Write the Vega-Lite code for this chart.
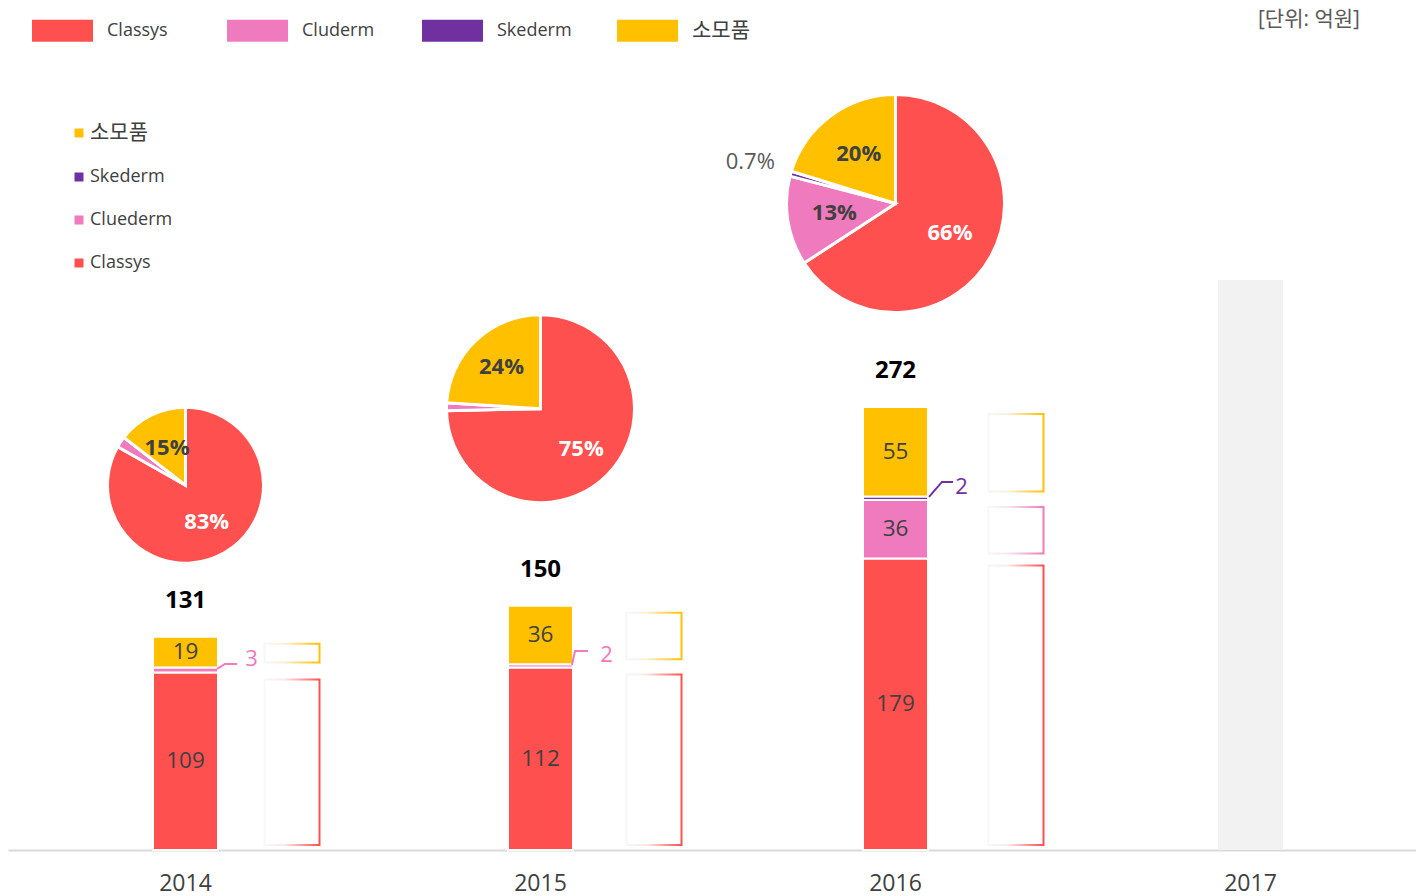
{
  "$schema": "https://vega.github.io/schema/vega-lite/v6.json",
  "width": 1408,
  "height": 810,
  "padding": {"left": 8, "top": 40, "right": 0, "bottom": 46},
  "autosize": {"type": "none"},
  "background": "white",
  "config": {
    "view": {"stroke": null},
    "font": "Open Sans, Noto Sans CJK KR, sans-serif",
    "axis": {"grid": false}
  },
  "title": {
    "text": "[단위: 억원]",
    "anchor": "end",
    "frame": "group",
    "fontSize": 21,
    "fontWeight": "normal",
    "color": "#595959",
    "dx": -56,
    "offset": -30
  },
  "datasets": {
    "sales": [
      {"year": "2014", "cat": "Classys", "order": 1, "value": 109, "share": "83%"},
      {"year": "2014", "cat": "Cluderm", "order": 2, "value": 3, "share": "2%"},
      {"year": "2014", "cat": "소모품", "order": 4, "value": 19, "share": "15%"},
      {"year": "2015", "cat": "Classys", "order": 1, "value": 112, "share": "75%"},
      {"year": "2015", "cat": "Cluderm", "order": 2, "value": 2, "share": "1%"},
      {"year": "2015", "cat": "소모품", "order": 4, "value": 36, "share": "24%"},
      {"year": "2016", "cat": "Classys", "order": 1, "value": 179, "share": "66%"},
      {"year": "2016", "cat": "Cluderm", "order": 2, "value": 36, "share": "13%"},
      {"year": "2016", "cat": "Skederm", "order": 3, "value": 2, "share": "0.7%"},
      {"year": "2016", "cat": "소모품", "order": 4, "value": 55, "share": "20%"}
    ],
    "pies": [
      {"year": "2014", "pieAt": 224},
      {"year": "2015", "pieAt": 271},
      {"year": "2016", "pieAt": 397}
    ]
  },
  "data": {"name": "sales"},
  "transform": [
    {"lookup": "year", "from": {"data": {"name": "pies"}, "key": "year", "fields": ["pieAt"]}},
    {"joinaggregate": [{"op": "sum", "field": "value", "as": "total"}], "groupby": ["year"]},
    {"stack": "value", "groupby": ["year"], "sort": [{"field": "order", "order": "ascending"}], "as": ["y0", "y1"]},
    {"stack": "value", "groupby": ["year"], "sort": [{"field": "order", "order": "ascending"}], "offset": "normalize", "as": ["p0", "p1"]},
    {"calculate": "(datum.y0 + datum.y1) / 2", "as": "ymid"},
    {"calculate": "(datum.p0 + datum.p1) / 2", "as": "pmid"}
  ],
  "resolve": {"scale": {"x": "independent"}},
  "layer": [
    {
      "resolve": {"scale": {"radius": "independent"}},
      "layer": [
        {
          "data": {"values": [{"year": "2017", "value": 350}]},
          "mark": {"type": "bar", "width": 65, "color": "#f2f2f2"},
          "encoding": {
            "x": {"field": "year", "type": "nominal",
                  "scale": {"type": "band", "domain": ["2014", "2015", "2016", "2017"], "range": [0, 1420], "paddingInner": 0, "paddingOuter": 0},
                  "axis": {"title": null, "ticks": false, "domainColor": "#d9d9d9", "domainWidth": 2, "labelFontSize": 23, "labelColor": "#404040", "labelPadding": 22, "labelAngle": 0}},
            "y": {"field": "value", "type": "quantitative", "scale": {"domain": [0, 497.4], "nice": false, "zero": true}, "axis": null}
          }
        },
        {
          "mark": {"type": "bar", "width": 65, "stroke": "white", "strokeWidth": 2},
          "encoding": {
            "x": {"field": "year", "type": "nominal",
                  "scale": {"type": "band", "domain": ["2014", "2015", "2016", "2017"], "range": [0, 1420], "paddingInner": 0, "paddingOuter": 0}},
            "y": {"field": "y1", "type": "quantitative", "scale": {"domain": [0, 497.4], "nice": false, "zero": true}, "axis": null},
            "y2": {"field": "y0"},
            "fill": {
              "field": "cat", "type": "nominal",
              "scale": {"domain": ["Classys", "Cluderm", "Skederm", "소모품"], "range": ["#FF5050", "#F07ABE", "#7030A0", "#FFC000"]},
              "legend": {
                "orient": "none", "legendX": 24, "legendY": -40,
                "direction": "horizontal", "columns": 4, "gridAlign": "all", "columnPadding": 45,
                "title": null, "padding": 0,
                "symbolType": "M-1,-0.36H1V0.36H-1Z", "symbolSize": 3721, "symbolStrokeWidth": 0,
                "labelFontSize": {"expr": "datum.label === '소모품' ? 21 : 18"}, "labelColor": "#404040", "labelOffset": 14
              }
            }
          }
        },
        {
          "transform": [{"filter": "datum.value >= 10"}],
          "mark": {"type": "text", "fontSize": 22.5, "color": "#404040", "baseline": "middle", "align": "center"},
          "encoding": {
            "x": {"field": "year", "type": "nominal"},
            "y": {"field": "ymid", "type": "quantitative", "axis": null},
            "text": {"field": "value", "type": "quantitative"}
          }
        },
        {
          "transform": [{"filter": "datum.cat === '소모품'"}],
          "mark": {"type": "text", "fontSize": 24, "fontWeight": "bold", "color": "#000000", "baseline": "middle", "align": "center", "dy": -36},
          "encoding": {
            "x": {"field": "year", "type": "nominal"},
            "y": {"field": "total", "type": "quantitative", "axis": null},
            "text": {"field": "total", "type": "quantitative"}
          }
        },
        {
          "transform": [{"filter": "datum.value < 10"}],
          "mark": {"type": "point", "filled": false, "size": 400, "strokeWidth": 2, "opacity": 1, "xOffset": 42},
          "encoding": {
            "x": {"field": "year", "type": "nominal"},
            "y": {"field": "ymid", "type": "quantitative", "axis": null, "stack": null},
            "shape": {"field": "year", "type": "nominal",
                      "scale": {"domain": ["2014", "2015", "2016"], "range": ["M-1.05,-0.11L-0.25,-0.61L0.95,-0.61", "M-1.05,-0.1L-0.75,-1.5L0.55,-1.5", "M-0.85,-0.13L0.45,-1.63L1.55,-1.63"]},
                      "legend": null},
            "stroke": {"condition": {"test": "datum.cat === 'Skederm'", "value": "#7030A0"}, "value": "#F07ABE"}
          }
        },
        {
          "transform": [{"filter": "datum.value < 10"}],
          "mark": {"type": "text", "fontSize": 22, "baseline": "middle", "align": "center", "dx": 66, "dy": -11},
          "encoding": {
            "x": {"field": "year", "type": "nominal"},
            "y": {"field": "ymid", "type": "quantitative", "axis": null},
            "text": {"field": "value", "type": "quantitative"},
            "color": {"condition": {"test": "datum.cat === 'Skederm'", "value": "#7030A0"}, "value": "#F07ABE"}
          }
        },
        {
          "mark": {"type": "arc", "stroke": "white", "strokeWidth": 3},
          "encoding": {
            "x": {"field": "year", "type": "nominal"},
            "y": {"field": "pieAt", "type": "quantitative", "axis": null, "stack": null},
            "theta": {"field": "p0", "type": "quantitative", "stack": null, "scale": {"domain": [0, 1], "range": [0, 6.283185307]}},
            "theta2": {"field": "p1"},
            "radius": {"field": "total", "type": "quantitative", "stack": null, "scale": {"type": "linear", "domain": [0, 131, 150, 272], "range": [0, 78, 94, 109], "zero": true}},
            "radius2": {"value": 0},
            "color": {
              "field": "cat", "type": "nominal",
              "scale": {"domain": ["소모품", "Skederm", "Cluderm", "Classys"], "range": ["#FFC000", "#7030A0", "#F07ABE", "#FF5050"]},
              "legend": {
                "orient": "none", "legendX": 62, "legendY": 84,
                "direction": "vertical", "title": null, "padding": 0,
                "symbolType": "square", "symbolSize": 81, "symbolStrokeWidth": 0,
                "labelFontSize": {"expr": "datum.label === '소모품' ? 21 : 18"}, "labelColor": "#404040", "labelOffset": 2, "rowPadding": 25,
                "labelExpr": "datum.label === 'Cluderm' ? 'Cluederm' : datum.label"
              }
            }
          }
        },
        {
          "transform": [{"filter": "(datum.p1 - datum.p0) >= 0.1"}],
          "mark": {"type": "text", "fontSize": 22, "fontWeight": "bold", "baseline": "middle", "align": "center"},
          "encoding": {
            "x": {"field": "year", "type": "nominal"},
            "y": {"field": "pieAt", "type": "quantitative", "axis": null, "stack": null},
            "theta": {"field": "pmid", "type": "quantitative", "stack": null, "scale": {"domain": [0, 1], "range": [0, 6.283185307]}},
            "radius": {"field": "total", "type": "quantitative", "stack": null, "scale": {"type": "linear", "domain": [0, 131, 150, 272], "range": [0, 42, 57, 62], "zero": true}},
            "text": {"field": "share", "type": "nominal"},
            "color": {"condition": {"test": "datum.cat === 'Classys'", "value": "#ffffff"}, "value": "#404040"}
          }
        },
        {
          "transform": [{"filter": "datum.cat === 'Skederm'"}],
          "mark": {"type": "text", "fontSize": 22, "baseline": "middle", "align": "center", "color": "#595959"},
          "encoding": {
            "x": {"field": "year", "type": "nominal"},
            "y": {"field": "pieAt", "type": "quantitative", "axis": null, "stack": null},
            "theta": {"field": "pmid", "type": "quantitative", "stack": null, "scale": {"domain": [0, 1], "range": [0, 6.283185307]}},
            "radius": {"value": 151},
            "text": {"field": "share", "type": "nominal"}
          }
        }
      ]
    },
    {
      "transform": [{"filter": "datum.value >= 10"}],
      "mark": {"type": "bar", "width": 55, "fill": "white", "strokeWidth": 2, "yOffset": 7, "y2Offset": -5},
      "encoding": {
        "x": {"field": "year", "type": "nominal",
              "scale": {"type": "band", "domain": ["2014", "2015", "2016", "2017"], "range": [103, 1551], "paddingInner": 0, "paddingOuter": 0},
              "axis": null},
        "y": {"field": "y1", "type": "quantitative", "axis": null},
        "y2": {"field": "y0"},
        "stroke": {
          "condition": [
            {"test": "datum.cat === 'Classys'", "value": {"gradient": "linear", "x1": 0, "y1": 0, "x2": 1, "y2": 0, "stops": [{"offset": 0, "color": "#f4f7fb"}, {"offset": 0.35, "color": "#fbeaea"}, {"offset": 1, "color": "#FF5050"}]}},
            {"test": "datum.cat === 'Cluderm'", "value": {"gradient": "linear", "x1": 0, "y1": 0, "x2": 1, "y2": 0, "stops": [{"offset": 0, "color": "#f4f7fb"}, {"offset": 0.35, "color": "#f9e6f1"}, {"offset": 1, "color": "#F07ABE"}]}}
          ],
          "value": {"gradient": "linear", "x1": 0, "y1": 0, "x2": 1, "y2": 0, "stops": [{"offset": 0, "color": "#f4f7fb"}, {"offset": 0.35, "color": "#fbf0d8"}, {"offset": 1, "color": "#FFC000"}]}
        }
      }
    }
  ]
}
